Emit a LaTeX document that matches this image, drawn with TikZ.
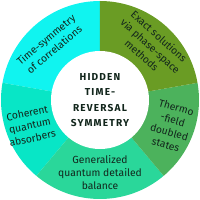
\documentclass[tikz,border=0pt]{standalone}
\usepackage{fontspec}
\setmainfont{Fira Sans}
\newfontfamily\hubfont[LetterSpace=12]{Fira Sans}
\usetikzlibrary{positioning}

\definecolor{timecol}{HTML}{10F4F0}
\definecolor{exactcol}{HTML}{6A9C24}
\definecolor{thermocol}{HTML}{4CB25C}
\definecolor{gencol}{HTML}{2AD79A}
\definecolor{cohcol}{HTML}{08E6C6}
\definecolor{inkcol}{HTML}{12261C}

\begin{document}
\begin{tikzpicture}[
  font=\fontsize{8.8}{11}\selectfont,
  seg/.style={draw=none},
  lbl/.style={align=center, text=inkcol, inner sep=0pt},
  hub/.style={circle, fill=white, minimum size=2.94cm, inner sep=0pt,
              align=center, text=inkcol,
              font=\hubfont\bfseries\fontsize{8.6}{13}\selectfont},
]
\useasboundingbox (-3,-3) rectangle (3,3);

% --- ring segments ---
\foreach \a/\b/\c in {90/170/timecol, 170/230/cohcol, 230/310/gencol,
                      310/370/thermocol, 370/450/exactcol} {
  \fill[seg, \c] (\a:1.4) -- (\a:2.97) arc[start angle=\a, end angle=\b, radius=2.97]
    -- (\b:1.4) -- cycle;
}

% --- centre ---
\node[hub] (core) at (0,0) {HIDDEN\\TIME-\\REVERSAL\\SYMMETRY};

% --- segment labels ---
\node[lbl, rotate=40]  (tsym)   at (132:2.24) {Time-symmetry\\of correlations};
\node[lbl, rotate=-42] (exact)  at (47:2.22)  {Exact solutions\\via phase-space\\methods};
\node[lbl, rotate=-16] (thermo) at (-20:2.27) {Thermo\\-field\\doubled\\states};
\node[lbl]             (gdb)    at (-90:2.17) {Generalized\\quantum detailed\\balance};
\node[lbl, rotate=12]  (cqa)    at (200:2.24) {Coherent\\quantum\\absorbers};

\end{tikzpicture}
\end{document}
